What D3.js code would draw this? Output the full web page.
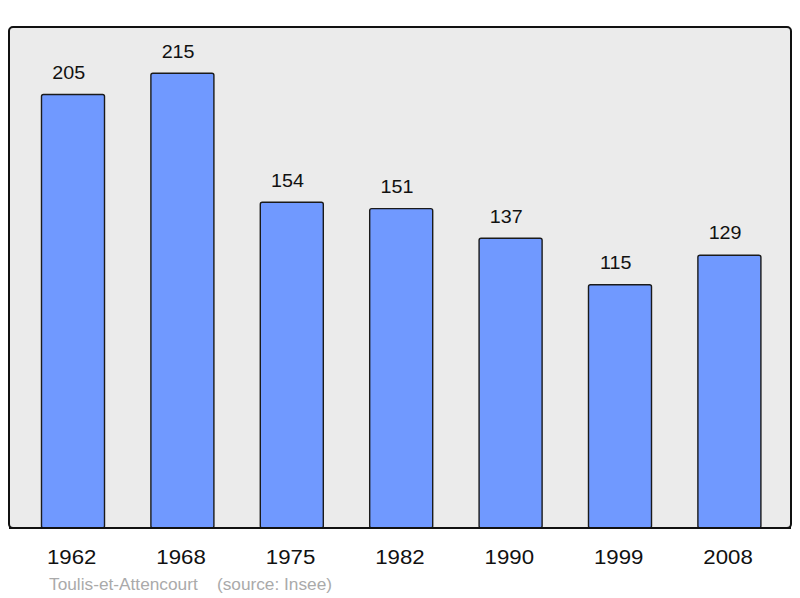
<!DOCTYPE html>
<html><head><meta charset="utf-8">
<script src="https://cdn.jsdelivr.net/npm/d3@7"></script>
<style>body{margin:0;background:#fff}svg{display:block}</style>
</head><body>
<svg id="c" width="800" height="598"></svg>
<script>
const years = ["1962","1968","1975","1982","1990","1999","2008"];
const population = [205,215,154,151,137,115,129];
const footerName = "Toulis-et-Attencourt";
const footerSource = "(source: Insee)";

const svg = d3.select("#c");
const frame = {x0:9, x1:791, y0:27, y1:528};
const FONT = "Liberation Sans, Arial, sans-serif";
const SX = 1.06;

svg.append("rect").attr("x",frame.x0).attr("y",frame.y0)
  .attr("width",frame.x1-frame.x0).attr("height",frame.y1-frame.y0)
  .attr("rx",4).attr("fill","#ebebeb").attr("stroke","#111").attr("stroke-width",2);

const x = d3.scaleBand().domain(years).range([18.3,784.1]).paddingInner(0.424).paddingOuter(0.212);
const y = d3.scaleLinear().domain([0,236.9]).range([frame.y1,frame.y0]);

const g = svg.append("g");
g.selectAll("rect.bar").data(years).join("rect").attr("class","bar")
  .attr("x",d=>x(d)).attr("width",x.bandwidth())
  .attr("y",(d,i)=>y(population[i])).attr("height",(d,i)=>y(0)-y(population[i]))
  .attr("rx",2)
  .attr("fill","#7099ff").attr("stroke","#1a1a1a").attr("stroke-width",1.4);

g.selectAll("text.val").data(years).join("text").attr("class","val")
  .attr("transform",(d,i)=>`translate(${x(d)+x.bandwidth()/2-4.3},${y(population[i])-15.7}) scale(${SX},1)`)
  .attr("text-anchor","middle").attr("font-family",FONT)
  .attr("font-size",18.6).attr("fill","#111").text((d,i)=>population[i]);

svg.append("line").attr("x1",frame.x0).attr("x2",frame.x1).attr("y1",frame.y1).attr("y2",frame.y1)
  .attr("stroke","#111").attr("stroke-width",2);

const xAxis = d3.axisBottom(x).tickSize(0).tickPadding(0);
const ax = svg.append("g").attr("transform",`translate(0,${frame.y1})`).call(xAxis);
ax.select(".domain").remove();
ax.selectAll(".tick text").attr("font-family",FONT)
  .attr("font-size",21).attr("fill","#111").attr("dy",null).attr("y",null)
  .attr("transform",`translate(-1.3,36) scale(${SX},1)`);

svg.append("text").attr("transform",`translate(49,590) scale(${SX},1)`)
  .attr("font-family",FONT).attr("font-size",16.3).attr("fill","#aaa")
  .attr("xml:space","preserve").style("white-space","pre")
  .text(footerName + "    " + footerSource);
</script>
</body></html>
